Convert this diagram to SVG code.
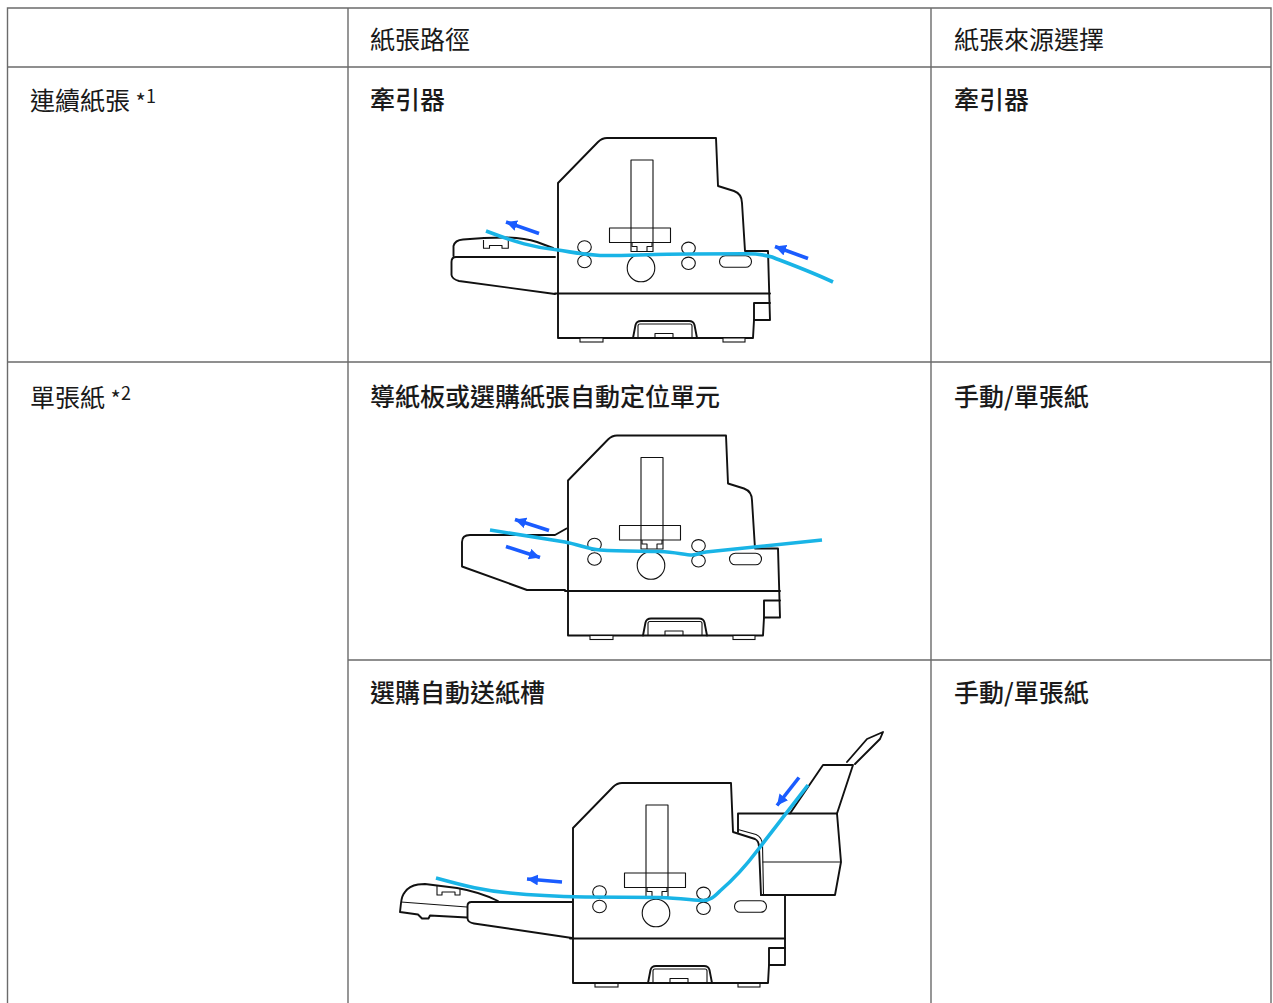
<svg xmlns="http://www.w3.org/2000/svg" width="1273" height="1003" viewBox="0 0 1273 1003">
<style>
.grid{stroke:#6b6b6b;stroke-width:1.4;fill:none}
.t{font-family:"Noto Sans CJK TC","Noto Sans CJK SC",sans-serif;font-size:25px;fill:#1a1a1a}
.b{font-weight:500}
.o{fill:none;stroke:#111;stroke-width:1.9;stroke-linejoin:round;stroke-linecap:round}
.i{fill:none;stroke:#111;stroke-width:1.1;stroke-linejoin:round}
.ft{fill:#fff;stroke:#111;stroke-width:1.1}
.paper{fill:none;stroke:#19b4e6;stroke-width:3.6;stroke-linecap:butt;stroke-linejoin:round}
.arr{stroke:#1a5cff;stroke-width:3.6;fill:none;marker-end:url(#ah)}
</style>
<defs>
<marker id="ah" markerUnits="userSpaceOnUse" markerWidth="12" markerHeight="11" refX="11" refY="5.5" orient="auto">
<path d="M0,0 L11,5.5 L0,11 Z" fill="#1a5cff"/>
</marker>
<g id="bodyInner">
<rect x="631" y="160" width="22" height="91.5" class="i"/>
<rect x="609.5" y="228" width="61" height="14.5" class="i"/>
<path d="M632,242.5 V246.5 H637 V251.5 M647,251.5 V246.5 H652 V242.5" class="i"/>
<ellipse cx="584.5" cy="247" rx="6.8" ry="6.2" class="i"/>
<ellipse cx="584.5" cy="261.5" rx="6.8" ry="6.2" class="i"/>
<ellipse cx="688.5" cy="248.3" rx="6.8" ry="6.2" class="i"/>
<ellipse cx="688.5" cy="263.3" rx="6.8" ry="6.2" class="i"/>
<circle cx="641" cy="268" r="13.8" class="i"/>
<rect x="719.5" y="255.7" width="32" height="11.6" rx="5.8" class="i"/>
<path d="M555,293.5 H770" class="o"/>
<path d="M754,303 H770 M754,303 V320" class="o"/>
<path d="M633,338 L635.5,325 Q636.5,321 641,321 L689,321 Q693.5,321 694.5,325 L697,338" class="o"/>
<path d="M638,338 V326 Q638,324 640,324 H690 Q692,324 692,326 V338" class="i"/>
<rect x="655" y="333.5" width="18" height="4.5" class="i"/>
<rect x="580" y="338" width="23" height="4" class="ft"/>
<rect x="723" y="338" width="22" height="4" class="ft"/>
</g>
<path id="outline12" d="M753,338 L558,338 L558,183 L598,142 Q602,138 607,138 L716,138 L718,186 L734,191 Q742,194 742,203 L745,251 L768,251 L770,320 L754,320 L753,338" class="o"/>
</defs>

<g id="table">
<path class="grid" d="M7.5,1003 V8 H1271 V1003 M348,8 V1003 M931,8 V1003 M7.5,67 H1271 M7.5,362 H1271 M348,660 H1271"/>
</g>

<g id="texts">
<text class="t" x="370" y="48.5">紙張路徑</text>
<text class="t" x="954" y="48.5">紙張來源選擇</text>
<text class="t" x="30" y="110">連續紙張 <tspan font-size="22">*</tspan><tspan font-size="18" dy="-7">1</tspan></text>
<text class="t b" x="370" y="109">牽引器</text>
<text class="t b" x="954" y="109">牽引器</text>
<text class="t" x="30" y="407">單張紙 <tspan font-size="22">*</tspan><tspan font-size="18" dy="-7">2</tspan></text>
<text class="t b" x="370" y="406">導紙板或選購紙張自動定位單元</text>
<text class="t b" x="954" y="406">手動/單張紙</text>
<text class="t b" x="370" y="702">選購自動送紙槽</text>
<text class="t b" x="954" y="702">手動/單張紙</text>
</g>

<g id="printer-tractor">
<path class="o" d="M555,257 L456,257 Q451.5,257 451.5,262 L451.5,275 Q452,279 459,281 L555,294"/>
<path class="o" d="M453.5,256 L453.5,246 Q455,240 463,239.5 L484,238 L507,237.5 Q525,238 537,242 L553,248"/>
<path class="i" d="M483.5,240 V248.3 H489.5 V245.5 H502 V248.3 H508.3 V240"/>
<use href="#outline12"/>
<use href="#bodyInner"/>
<path class="paper" d="M486,231 C515,242 535,248 558,250 C572,252 580,254.5 600,255.5 C625,256 650,254 690,254 L746,253.8 C757,253.8 764,254.5 772,257 C790,264 812,272 833,282"/>
<line class="arr" x1="539" y1="233.5" x2="506" y2="222"/>
<line class="arr" x1="808" y1="258.5" x2="775" y2="246.5"/>
</g>

<g id="printer-guide">
<path class="o" d="M566.5,528.5 L555,535 L470,535 Q462,535 462,542 L462,566.5 L527,590 L565,590"/>
<g transform="translate(10,297.5)">
<use href="#outline12"/>
<use href="#bodyInner"/>
</g>
<path class="paper" d="M490,530 C520,535 545,539 565,542 C580,545 588,549 600,550 C620,551.5 640,551 660,551.5 C675,552 685,555 692,555 C697,555 700,553 706,552 L822,540"/>
<line class="arr" x1="549" y1="530.5" x2="515" y2="519.5"/>
<line class="arr" x1="506" y1="546.5" x2="540" y2="557.5"/>
</g>

<g id="printer-asf">
<path class="o" d="M467,917.5 L430,915.5 L428.5,918.5 L422,918.5 L418,914.5 L400,912 L401,903 Q402,895 405,892 Q409,886 418,884.5 L425,884 L457,888 Q480,892 498,901"/>
<path class="i" d="M401,902 L467,907"/>
<path class="i" d="M437,885.5 V895 H442 V892 H455 V895 H460 V888.5"/>
<path class="o" d="M572,902 L471.5,902 Q467.5,902 467.5,906 L467.5,918.5 Q468,922.5 474,923.5 L572,938"/>
<g transform="translate(15,645)">
<use href="#bodyInner"/>
</g>
<path class="o" d="M761,895 L759,847 Q759,841 755,839 L733,832 L731,783 L622,783 Q617,783 613,787 L573,828 L573,983 L768,983 L769,965 L785,965 L785,896"/>
<path class="i" d="M738,829.5 L756,834.5 Q762,837 762.5,845 L763.5,895"/>
<path class="o" d="M738,832 L738,813.5 L837,813.5 L841,862 L835,895 L761,895"/>
<path class="i" d="M762.5,862 H841"/>
<path class="o" d="M790,813.5 L823,765 L853,765 L837,813.5"/>
<path class="o" d="M847,762 L867,739 L883,732 L880,739 L855,764"/>
<path class="paper" d="M436,878 C465,886 485,891 510,893 C540,896 560,896.5 585,897 L660,897.5 C680,898 695,900.5 703,900.5 C710,900.5 714,897 720,891 C735,878 745,867 757,851 L808,785"/>
<line class="arr" x1="562" y1="882" x2="527" y2="879"/>
<line class="arr" x1="799" y1="777.5" x2="777" y2="805.5"/>
</g>
</svg>
